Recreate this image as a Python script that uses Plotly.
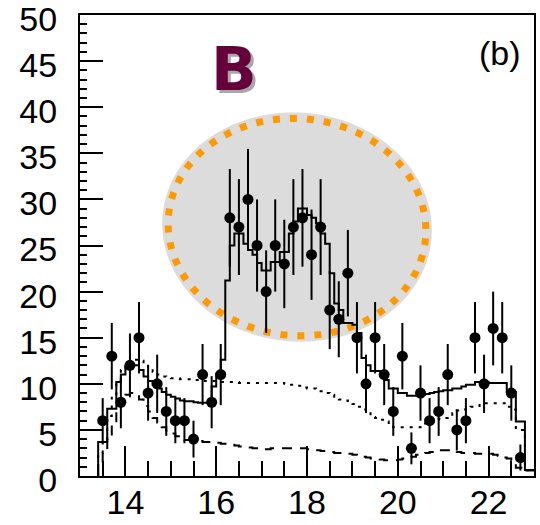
import numpy as np
import plotly.graph_objects as go

# ---------------- data ----------------
mass = [13.5, 13.7, 13.9, 14.1, 14.3, 14.5, 14.7, 14.9, 15.1, 15.3, 15.5, 15.7,
        15.9, 16.1, 16.3, 16.5, 16.7, 16.9, 17.1, 17.3, 17.5, 17.7, 17.9, 18.1,
        18.3, 18.5, 18.7, 18.9, 19.1, 19.3, 19.5, 19.7, 19.9, 20.1, 20.3, 20.5,
        20.7, 20.9, 21.1, 21.3, 21.5, 21.7, 21.9, 22.1, 22.3, 22.5, 22.7]
counts = [6, 13, 8, 12, 15, 9, 10, 7, 6, 6, 4, 11,
          8, 11, 28, 27, 30, 25, 20, 25, 23, 27, 28, 24,
          27, 18, 17, 22, 15, 10, 15, 11, 7, 13, 3, 9,
          6, 7, 11, 5, 6, 15, 10, 16, 15, 9, 2]

hist_start = 13.4
hist_width = 0.1

total_fit = [3.7, 3.7, 7.3, 7.3, 10.2, 11.0, 11.8, 12.0, 12.0, 11.5,
             10.8, 10.3, 9.9, 9.5, 9.1, 8.8, 8.6, 8.4, 8.2, 8.1,
             8.1, 8.0, 7.95, 7.95, 7.95, 9.7, 11.1, 12.6, 21.2, 25.0,
             26.3, 26.3, 25.2, 24.5, 24.0, 23.1, 22.3, 22.3, 23.2, 23.2,
             24.3, 24.3, 26.3, 27.6, 29.0, 29.0, 28.3, 28.0, 27.4, 26.3,
             25.2, 22.0, 18.7, 18.0, 16.6, 16.6, 16.4, 15.5, 12.8, 12.0,
             11.4, 11.4, 11.4, 10.4, 9.5, 9.5, 9.0, 9.0, 8.7, 8.7,
             8.7, 8.8, 8.9, 9.0, 9.1, 9.2, 9.3, 9.3, 9.5, 9.5,
             9.7, 9.9, 9.9, 10.2, 10.2, 10.2, 10.1, 10.1, 10.1, 10.1,
             9.1, 9.1, 5.9, 5.9, 0.65, 0.65]

comp_dotted = [2.5, 4.0, 6.5, 8.5, 10.3, 11.5, 12.4, 12.6, 12.6, 12.5,
               12.2, 11.8, 11.3, 11.0, 10.8, 10.7, 10.6, 10.6, 10.5, 10.5,
               10.5, 10.4, 10.4, 10.3, 10.3, 10.3, 10.2, 10.2, 10.2, 10.2,
               10.2, 10.1, 10.1, 10.1, 10.1, 10.1, 10.1, 10.1, 10.1, 10.1,
               10.1, 10.0, 9.9, 9.9, 9.8, 9.6, 9.5, 9.5, 9.4, 9.2,
               9.0, 8.8, 8.6, 8.3, 8.2, 8.0, 7.8, 7.5, 7.2, 6.8,
               6.4, 6.3, 6.1, 5.9, 5.6, 5.3, 5.3, 5.3, 5.3, 5.3,
               5.3, 5.5, 5.7, 5.9, 6.1, 6.2, 6.3, 6.5, 6.8, 7.1,
               7.2, 7.3, 7.5, 7.6, 7.7, 7.9, 7.9, 7.9, 7.9, 7.9,
               7.5, 7.2, 5.0, 5.0, 0.6, 0.6]

comp_dashed = [1.0, 2.5, 4.3, 5.8, 7.2, 8.2, 8.8, 9.0, 8.8, 8.3,
               7.6, 7.0, 6.3, 5.8, 5.3, 4.9, 4.6, 4.3, 4.1, 3.9,
               3.9, 3.8, 3.8, 3.7, 3.7, 3.6, 3.6, 3.5, 3.5, 3.4,
               3.3, 3.2, 3.2, 3.1, 3.0, 2.9, 2.9, 2.9, 3.0, 3.0,
               3.0, 3.0, 3.0, 3.0, 3.0, 3.0, 2.9, 2.8, 2.8, 2.7,
               2.7, 2.6, 2.5, 2.5, 2.4, 2.4, 2.3, 2.2, 2.1, 2.0,
               1.9, 1.9, 1.8, 1.7, 1.7, 1.7, 1.8, 1.9, 2.0, 2.1,
               2.3, 2.4, 2.5, 2.6, 2.7, 2.8, 2.8, 2.8, 2.7, 2.6,
               2.5, 2.5, 2.5, 2.4, 2.4, 2.4, 2.4, 2.3, 2.2, 2.0,
               1.9, 1.7, 0.9, 0.9, 0.6, 0.6]

x_range = [13, 23]
y_range = [0, 50]


def steps(vals):
    edges = hist_start + hist_width * np.arange(len(vals) + 1)
    x = np.concatenate([[edges[0]], edges])
    y = np.concatenate([[0.0], vals, [vals[-1]]])
    return x, y


fig = go.Figure()

# highlighted ellipse (drawn in pixel geometry, converted to data units)
px_x = 45.4   # px per unit x
px_y = 9.22   # px per unit y
cx, cy = 17.78, 27.0
rx_px, ry_px, rot = 129.0, 108.5, np.deg2rad(5.0)
t = np.linspace(0, 2 * np.pi, 121)
dx = rx_px * np.cos(t)
dy = ry_px * np.sin(t)
dxr = dx * np.cos(rot) - dy * np.sin(rot)
dyr = dx * np.sin(rot) + dy * np.cos(rot)
ex = cx + dxr / px_x
ey = cy - dyr / px_y
path = "M " + " L ".join(f"{a:.4f},{b:.4f}" for a, b in zip(ex, ey)) + " Z"
fig.add_shape(type="path", path=path, xref="x", yref="y", layer="below",
              fillcolor="rgb(220,220,220)",
              line=dict(color="rgb(220,220,220)", width=12))
fig.add_shape(type="path", path=path, xref="x", yref="y", layer="below",
              line=dict(color="#FF9900", width=7, dash="7px,10px"))

# components
xs, ys = steps(comp_dashed)
fig.add_trace(go.Scatter(x=xs, y=ys, mode="lines", line_shape="hv",
                         line=dict(color="black", width=2, dash="10px,8px"),
                         hoverinfo="skip", showlegend=False))
xs, ys = steps(comp_dotted)
fig.add_trace(go.Scatter(x=xs, y=ys, mode="lines", line_shape="hv",
                         line=dict(color="black", width=2, dash="3px,6px"),
                         hoverinfo="skip", showlegend=False))
xs, ys = steps(total_fit)
fig.add_trace(go.Scatter(x=xs, y=ys, mode="lines", line_shape="hv",
                         line=dict(color="black", width=2),
                         hoverinfo="skip", showlegend=False))

# data points
fig.add_trace(go.Scatter(
    x=mass, y=counts, mode="markers",
    marker=dict(color="black", size=11, symbol="circle"),
    error_y=dict(type="data", array=np.sqrt(counts), width=0, thickness=2,
                 color="black"),
    showlegend=False))

font = "Liberation Sans, Arial, sans-serif"
fig.update_layout(
    width=540, height=525,
    margin=dict(l=80, r=6, t=15, b=49),
    paper_bgcolor="white", plot_bgcolor="white",
    xaxis=dict(range=x_range, tick0=0, dtick=2, ticks="inside", ticklen=30,
               tickwidth=2, tickcolor="black", showline=True, linewidth=2,
               linecolor="black", mirror=True, showgrid=False, zeroline=False,
               automargin=False, ticklabeloverflow="allow",
               ticklabelstandoff=-5,
               tickfont=dict(family=font, size=34, color="black"),
               minor=dict(tick0=0, dtick=0.5, ticks="inside", ticklen=15,
                          tickwidth=2, tickcolor="black", showgrid=False)),
    yaxis=dict(range=y_range, tick0=0, dtick=5, ticks="inside", ticklen=23,
               tickwidth=2, tickcolor="black", showline=True, linewidth=2,
               linecolor="black", mirror=True, showgrid=False, zeroline=False,
               automargin=False, ticklabeloverflow="allow",
               ticklabelstandoff=14, ticklabelshift=4,
               tickfont=dict(family=font, size=34, color="black"),
               minor=dict(tick0=0, dtick=1, ticks="inside", ticklen=7,
                          tickwidth=2, tickcolor="black", showgrid=False)),
    annotations=[
        dict(x=16.40, y=44.1, xref="x", yref="y", text="<b>B</b>",
             showarrow=False, xanchor="center", yanchor="middle",
             font=dict(family="DejaVu Sans", size=60, color="#66003a",
                       shadow="3px 3px 0px #a8a8a8")),
        dict(x=22.25, y=45.9, xref="x", yref="y", text="(b)",
             showarrow=False, xanchor="center", yanchor="middle",
             font=dict(family=font, size=34, color="black")),
    ],
)

fig.write_html("out.html")
